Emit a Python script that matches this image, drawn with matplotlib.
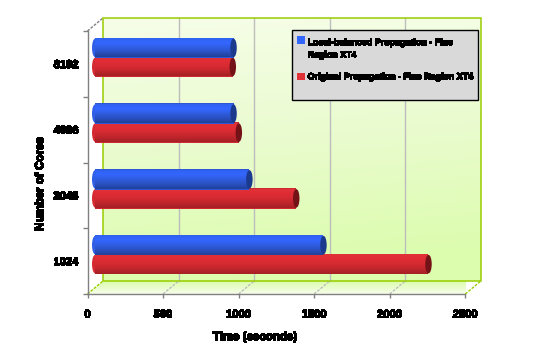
import numpy as np
import matplotlib
matplotlib.use("Agg")
import matplotlib.pyplot as plt
import matplotlib.patheffects as pe
from matplotlib.colors import LinearSegmentedColormap
from matplotlib.legend_handler import HandlerPatch
from matplotlib.patches import Ellipse, Patch, Polygon, Rectangle
from matplotlib.transforms import Affine2D

cores = ["1024", "2048", "4096", "8192"]
balanced = [1510, 1020, 915, 915]
original = [2205, 1330, 950, 910]
balanced_name = "Local-balanced Propagation - Fine\nRegion XT4"
original_name = "Original Propagation - Fine Region XT4"
x_ticks = [0, 500, 1000, 1500, 2000, 2500]

plt.rcParams["font.family"] = "Liberation Sans"
plt.rcParams["font.weight"] = "bold"
plt.rcParams["text.antialiased"] = False

W, H = 545, 355
fig = plt.figure(figsize=(W / 100, H / 100), dpi=100, facecolor="white")
ax = fig.add_axes([87.5 / W, (H - 294) / H, (465.3 - 87.5) / W, (294 - 31) / H])
ax.patch.set_visible(False)

back = ax.transData + Affine2D().translate(15.5, 13)
mid = ax.transData + Affine2D().translate(7.75, 6.5)
GREEN = "#99CC00"
GRAY = "#808080"
smear = [pe.Stroke(linewidth=0.28, foreground="black"), pe.Normal()]

# back wall
wall_cm = LinearSegmentedColormap.from_list("wall", ["#F6FEE8", "#EAFBCF", "#DCFDAE"])
yy, xx = np.mgrid[0:1:100j, 0:1:100j]
wall_img = ax.imshow(0.9 * yy + 0.1 * xx, cmap=wall_cm, extent=[0, 2500, 0, 4], origin="upper",
                     aspect="auto", transform=back, zorder=1, vmin=0, vmax=0.9)
wall_rect = Rectangle((0, 0), 2500, 4, transform=back, fill=False, ec=GREEN, lw=1.1, zorder=2.5,
                      clip_on=False, snap=True)
ax.add_patch(wall_rect)
wall_img.set_clip_box(None)
wall_img.set_clip_on(False)

# floor
dy = 13 / 65.75
dx = 15.5 / 0.15112
floor_cm = LinearSegmentedColormap.from_list("floor", ["#F7FEEA", "#DCFDAE"])
floor_img = ax.imshow(np.linspace(0, 1, 30)[:, None], cmap=floor_cm,
                      extent=[0, 2500 + dx, 0, dy], origin="lower", aspect="auto", zorder=1)
floor_poly = Polygon([(0, 0), (2500, 0), (2500 + dx, dy), (dx, dy)], closed=True, transform=ax.transData,
                     fill=False, ec="none", clip_on=False)
ax.add_patch(floor_poly)
floor_img.set_clip_box(None)
floor_img.set_clip_path(floor_poly)

# grid
for t in x_ticks[1:-1]:
    ax.plot([t, t], [0, 4], transform=back, color="#BDBDBD", lw=1, zorder=2, clip_on=False, snap=True)
    ax.plot([t, t + dx], [0, dy], color="#BDBDBD", lw=1, ls=(0, (2, 1)), zorder=2, clip_on=False)
ax.plot([0, dx], [0, dy], color=GREEN, lw=1, ls=(0, (2, 1)), zorder=2, clip_on=False)
ax.plot([2500, 2500 + dx], [0, dy], color=GREEN, lw=1, ls=(0, (2, 1)), zorder=2, clip_on=False)
ax.plot([0, dx], [4, 4 + dy], color=GRAY, lw=1, ls=(0, (2, 1)), zorder=2, clip_on=False)

# bars
blue_cm = LinearSegmentedColormap.from_list("b", ["#2F62EE", "#3366FF", "#2F5CE0", "#2A50C0", "#1F3F98"])
red_cm = LinearSegmentedColormap.from_list("r", ["#E03038", "#E02C34", "#D42A32", "#BE252B", "#A32024"])
h = 0.289
pos = np.arange(len(cores)) + 0.5
cap_w = 6.5 / 0.15112
N = 20


def draw(vals, y, cm, cap, z):
    for v, y0 in zip(vals, y):
        ax.add_patch(Ellipse((0, y0 + h / 2), cap_w, h * 0.98, color=cm(0.45), lw=0, transform=mid, zorder=z, clip_on=False))
        ax.barh(y0 - 0.01, v, height=h + 0.02, align="edge", color=cm(0.6), lw=0, transform=mid, zorder=z, clip_on=False)
        for i in range(N):
            ax.barh(y0 + h - (i + 1) * h / N, v, height=h / N * 1.15, align="edge", color=cm((i + 0.5) / N),
                    lw=0, transform=mid, zorder=z + 0.1, clip_on=False)
        ax.add_patch(Ellipse((v, y0 + h / 2), cap_w, h * 0.98, color=cap, lw=0, transform=mid, zorder=z + 0.2, clip_on=False))


draw(original, pos - h, red_cm, "#741317", 3)
draw(balanced, pos, blue_cm, "#1B3A8E", 4)

ax.set_xlim(0, 2500)
ax.set_ylim(0, 4)
for s in ("top", "right"):
    ax.spines[s].set_visible(False)
for s in ("left", "bottom"):
    ax.spines[s].set_color(GRAY)
    ax.spines[s].set_linewidth(1)
    ax.spines[s].set_zorder(6)
ax.set_xticks(x_ticks)
ax.set_yticks(range(5))
ax.set_yticklabels([])
ax.set_yticks(pos, cores, minor=True)
ax.tick_params(axis="x", length=3.2, width=1, color=GRAY, pad=8, labelsize=8)
ax.tick_params(axis="y", which="major", length=3.5, width=1, color=GRAY)
ax.tick_params(axis="y", which="minor", length=0, pad=6.5, labelsize=8)
for lab in ax.get_xticklabels() + ax.get_yticklabels(minor=True):
    lab.set_path_effects(smear)

t1 = fig.text(255 / W, 1 - 337 / H, "Time (seconds)", ha="center", va="center", fontsize=8.3)
t2 = fig.text(40 / W, 1 - 184 / H, "Number of Cores", ha="center", va="center", rotation=90, fontsize=8.3)
t1.set_path_effects(smear)
t2.set_path_effects(smear)

fig.add_artist(Rectangle((292 / W, 1 - 100 / H), 186 / W, 70 / H, transform=fig.transFigure, fc="#D9D9D9",
                         ec="black", lw=1, zorder=7))


def raised(legend, orig_handle, xdescent, ydescent, width, height, fontsize):
    return Rectangle((-xdescent, -ydescent + 6.5), width, height)


handles = [Patch(fc="#3366FF", ec="none"), Patch(fc="#E03038", ec="none")]
leg = fig.legend(handles, [balanced_name, original_name], loc="upper left",
                 bbox_to_anchor=(297 / W, 1 - 38 / H), bbox_transform=fig.transFigure,
                 fontsize=6.4, frameon=False, borderaxespad=0, borderpad=0, handlelength=0.9, handleheight=0.9,
                 handletextpad=0.3, labelspacing=1.44, labelcolor="black",
                 handler_map={handles[0]: HandlerPatch(patch_func=raised)})
leg.set_zorder(8)
for t in leg.get_texts():
    t.set_linespacing(1.5)
    t.set_path_effects(smear)

fig.savefig("out.png", dpi=100)
